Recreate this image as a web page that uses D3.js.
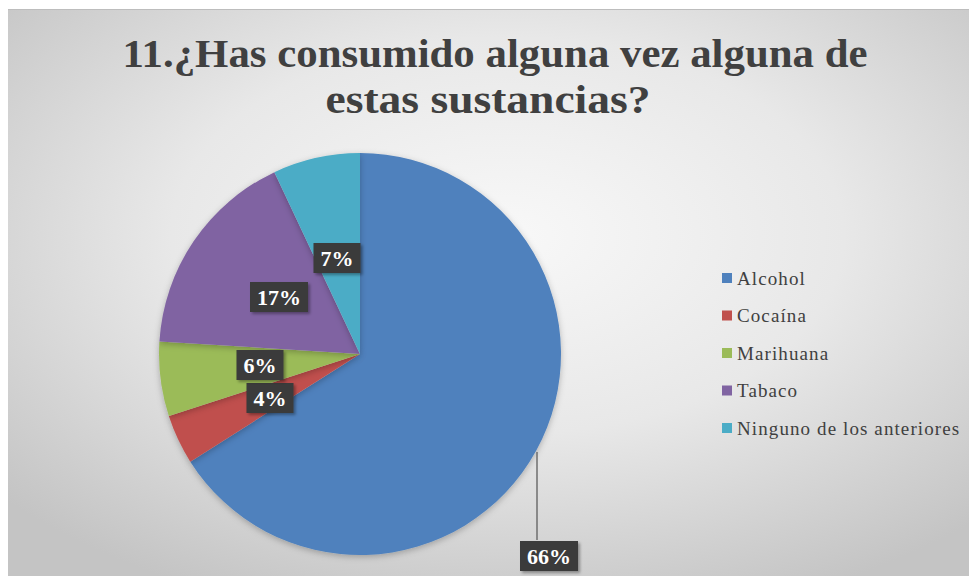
<!DOCTYPE html>
<html><head><meta charset="utf-8">
<script src="https://cdn.jsdelivr.net/npm/d3@7"></script>
<style>html,body{margin:0;padding:0;background:#fff;}svg{display:block;}</style>
</head><body>
<script>
const categories = ["Alcohol", "Cocaína", "Marihuana", "Tabaco", "Ninguno de los anteriores"];
const values = [66, 4, 6, 17, 7];
const labels = ["66%", "4%", "6%", "17%", "7%"];
const colors = ["#4F81BD", "#C0504D", "#9BBB59", "#8064A2", "#4BACC6"];
const titleLines = ["11.¿Has consumido alguna vez alguna de", "estas sustancias?"];

const W = 969, H = 576;
const svg = d3.select("body").append("svg").attr("width", W).attr("height", H);
const defs = svg.append("defs");
const rg = defs.append("radialGradient").attr("id", "bg").attr("cx", "52%").attr("cy", "40%").attr("r", "70%");
rg.append("stop").attr("offset", "0%").attr("stop-color", "#f8f8f8");
rg.append("stop").attr("offset", "50%").attr("stop-color", "#e8e8e8");
rg.append("stop").attr("offset", "100%").attr("stop-color", "#c4c4c4");
const f = defs.append("filter").attr("id", "sh").attr("x", "-20%").attr("y", "-20%").attr("width", "150%").attr("height", "150%");
f.append("feDropShadow").attr("dx", 2).attr("dy", 2).attr("stdDeviation", 1.5).attr("flood-color", "#000").attr("flood-opacity", 0.35);
const fp = defs.append("filter").attr("id", "psh").attr("x", "-10%").attr("y", "-10%").attr("width", "125%").attr("height", "125%");
fp.append("feDropShadow").attr("dx", 0).attr("dy", 2).attr("stdDeviation", 3).attr("flood-color", "#000").attr("flood-opacity", 0.25);

svg.append("rect").attr("x", 8).attr("y", 9).attr("width", W - 8).attr("height", H - 9).attr("fill", "url(#bg)");
svg.append("line").attr("x1", 8).attr("x2", W).attr("y1", 9.5).attr("y2", 9.5).attr("stroke", "#bdbdbd").attr("stroke-width", 1);

// title
const tg = svg.append("g");
const tY = [67, 113], tLen = [745, 325], tX = [495, 488];
titleLines.forEach((t, i) => {
  tg.append("text").attr("x", tX[i]).attr("y", tY[i]).attr("text-anchor", "middle")
    .attr("font-family", "Liberation Serif, serif").attr("font-weight", "bold").attr("font-size", 41)
    .attr("fill", "#404040").attr("textLength", tLen[i]).attr("lengthAdjust", "spacingAndGlyphs").text(t);
});

// pie
const cx = 360, cy = 354, R = 201;
const pie = d3.pie().sort(null).value(d => d)(values);
const arc = d3.arc().innerRadius(0).outerRadius(R);
const pg = svg.append("g").attr("transform", `translate(${cx},${cy})`);
pg.selectAll("path").data(pie).join("path").attr("d", arc).attr("fill", (d, i) => colors[i]).attr("filter", "url(#psh)");

// labels (positions from reference, in pie-relative offsets)
const labelPos = [[189, 202], [-90, 44], [-100, 11], [-81, -57], [-23, -96]];
svg.append("line").attr("x1", cx + 177).attr("y1", cy + 98).attr("x2", cx + 177).attr("y2", cy + 186)
  .attr("stroke", "#6e6e6e").attr("stroke-width", 1.5);
const lg = svg.append("g");
labels.forEach((t, i) => {
  const x = cx + labelPos[i][0], y = cy + labelPos[i][1];
  const g = lg.append("g").attr("transform", `translate(${x},${y})`);
  const txt = g.append("text").attr("text-anchor", "middle").attr("dy", "0.35em")
    .attr("font-family", "Liberation Serif, serif").attr("font-weight", "bold").attr("font-size", 22)
    .attr("fill", "#ffffff").text(t);
  const bb = txt.node().getBBox();
  g.insert("rect", "text").attr("x", bb.x - 7).attr("y", -15).attr("width", bb.width + 14).attr("height", 30)
    .attr("fill", "#3b3b3b").attr("filter", "url(#sh)");
});

// legend
const leg = svg.append("g");
categories.forEach((c, i) => {
  const y = 278 + i * 37.5;
  leg.append("rect").attr("x", 722).attr("y", y - 5).attr("width", 10).attr("height", 10).attr("fill", colors[i]);
  leg.append("text").attr("x", 737).attr("y", y).attr("dy", "0.35em")
    .attr("font-family", "Liberation Serif, serif").attr("font-size", 19).attr("letter-spacing", 1.1)
    .attr("fill", "#404040").text(c);
});
</script>
</body></html>
